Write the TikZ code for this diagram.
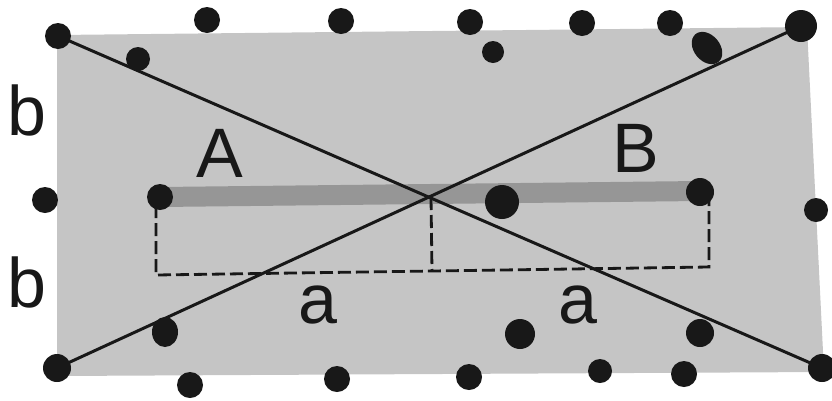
\documentclass[tikz,border=0pt]{standalone}
\usepackage{fontspec}
\setmainfont{Liberation Sans}
\usetikzlibrary{positioning}
\definecolor{planegray}{RGB}{197,197,197}
\definecolor{bargray}{RGB}{150,150,150}
\definecolor{dotblack}{RGB}{24,24,24}

\begin{document}
\begin{tikzpicture}[x=1pt, y=-1pt,
        dot/.style={fill=dotblack},
        diag/.style={line width=3pt, draw=dotblack},
        guide/.style={line width=2.8pt, draw=dotblack, dash pattern=on 13pt off 5pt},
        letter/.style={font=\fontsize{70}{70}\selectfont, text=dotblack, inner sep=0pt, anchor=base}
      ]
      \useasboundingbox (0,0) rectangle (832,400);

      % plane
      \fill[planegray] (57,35) -- (807,27) -- (824,372) -- (57,376) -- cycle;

      % ends of the two diagonals and the middle
      \coordinate (topleft) at (58,36);
      \coordinate (botright) at (822,368);
      \coordinate (botleft) at (57,368);
      \coordinate (topright) at (801,26);
      \coordinate (mid) at (431,197);

      % rod between the two points
      \draw[line width=20pt, bargray] (160,197) -- (700,191);

      \draw[diag] (topleft) -- (botright);
      \draw[diag] (botleft) -- (topright);

      \draw[guide] (156,205) -- (156,275) -- (709,267) -- (709,200);
      \draw[guide] (mid) -- (432,271);

      % dots
      \foreach \px/\py/\r in {58/36/13, 138/59/12, 207/20/13, 341/21/13, 470/22/13,
          493/52/11, 582/23/13, 670/23/13, 801/26/16, 45/200/13, 160/197/13,
          502/202/17, 700/192/14, 816/210/12, 57/368/14, 190/385/13, 337/379/13,
          469/377/13, 520/334/15, 600/371/12, 684/374/13, 700/333/14, 822/368/14}
        \fill[dot] (\px,\py) circle [radius=\r pt];
      \fill[dot, shift={(707,48)}, rotate=-50] (0,0) ellipse [x radius=18pt, y radius=13pt];
      \fill[dot] (165,332) ellipse [x radius=13pt, y radius=15pt];

      % labels
      \node[letter] (bupper) at (27,135) {b};
      \node[letter] (blower) at (27,307) {b};
      \node[letter] (labA) at (220,177) {A};
      \node[letter] (labB) at (636,172) {B};
      \node[letter] (aleft) at (318,323) {a};
      \node[letter] (aright) at (578,323) {a};
    \end{tikzpicture}
\end{document}
